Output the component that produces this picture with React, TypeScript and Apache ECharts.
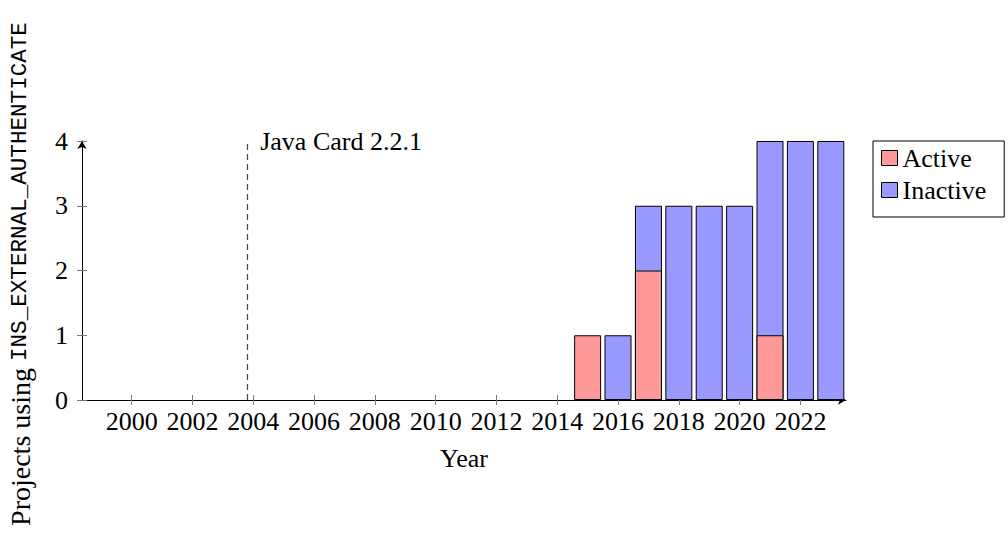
import React, { useEffect, useRef } from "react";
import * as echarts from "echarts";

const years = [2015, 2016, 2017, 2018, 2019, 2020, 2021, 2022, 2023];
const activeCounts = [1, 0, 2, 0, 0, 0, 1, 0, 0];
const inactiveCounts = [0, 1, 1, 3, 3, 3, 3, 4, 4];
const xTickLabels = [2000, 2002, 2004, 2006, 2008, 2010, 2012, 2014, 2016, 2018, 2020, 2022];
const yTickLabels = [0, 1, 2, 3, 4];
const seriesNames = ["Active", "Inactive"];
const javaCardYear = 2003.8;
const javaCardLabel = "Java Card 2.2.1";
const xName = "Year";
const yNamePlain = "Projects using ";
const yNameCode = "INS_EXTERNAL_AUTHENTICATE";

const SERIF = "'Liberation Serif', 'DejaVu Serif', serif";
const MONO = "'Liberation Mono', 'DejaVu Sans Mono', monospace";
const FS = 26;

export default function App() {
  const ref = useRef<HTMLDivElement>(null);
  useEffect(() => {
    document.body.style.margin = "0";
    const chart = echarts.init(ref.current!, undefined, { renderer: "svg" });
    // Stack built from the data: Inactive bar reaches active + inactive, Active drawn over it from 0.
    const activeData = years.map((y, i) => [y, activeCounts[i] === 0 ? "-" : activeCounts[i]]);
    const totalData = years.map((y, i) => {
      const t = activeCounts[i] + inactiveCounts[i];
      return [y, inactiveCounts[i] === 0 ? "-" : t];
    });
    const tickColor = "#777";
    const xMin = 1998.365;
    const xMax = 2023.5;
    const baseX = {
      type: "value",
      min: xMin,
      max: xMax,
      splitLine: { show: false },
    };
    const baseY = {
      type: "value",
      min: 0,
      max: 4,
      interval: 1,
      splitLine: { show: false },
    };
    chart.setOption({
      animation: false,
      grid: { left: 82, right: 162, top: 141, bottom: 138 },
      legend: {
        orient: "vertical",
        left: 873,
        top: 141,
        padding: [4, 18, 14, 8],
        borderColor: "#000",
        borderWidth: 1,
        itemWidth: 16,
        itemHeight: 15,
        itemGap: 6,
        icon: "rect",
        data: seriesNames,
        textStyle: { fontFamily: SERIF, fontSize: FS, color: "#000", lineHeight: 26 },
        itemStyle: { borderColor: "#000", borderWidth: 1 },
      },
      xAxis: [
        {
          ...baseX,
          position: "bottom",
          name: xName,
          nameLocation: "middle",
          nameGap: 45,
          nameTextStyle: { fontFamily: SERIF, fontSize: FS, color: "#000" },
          axisLine: {
            show: true,
            lineStyle: { color: "#000", width: 1 },
            symbol: ["none", "arrow"],
            symbolSize: [7, 8],
          },
          axisTick: {
            show: true,
            length: 5,
            customValues: xTickLabels,
            lineStyle: { color: tickColor },
          },
          axisLabel: {
            customValues: xTickLabels,
            formatter: (v: number) => String(v),
            fontFamily: SERIF,
            fontSize: FS,
            color: "#000",
            margin: 8,
          },
        },
        {
          ...baseX,
          position: "bottom",
          axisLine: { show: false },
          axisTick: {
            show: true,
            inside: true,
            length: 5,
            customValues: xTickLabels,
            lineStyle: { color: tickColor },
          },
          axisLabel: { show: false },
        },
      ],
      yAxis: [
        {
          ...baseY,
          position: "left",
          axisLine: {
            show: true,
            lineStyle: { color: "#000", width: 1 },
            symbol: ["none", "arrow"],
            symbolSize: [7, 8],
          },
          axisTick: { show: true, length: 5, lineStyle: { color: tickColor } },
          axisLabel: {
            customValues: yTickLabels,
            fontFamily: SERIF,
            fontSize: FS,
            color: "#000",
            margin: 14,
          },
        },
        {
          ...baseY,
          position: "left",
          axisLine: { show: false },
          axisTick: { show: true, inside: true, length: 5, lineStyle: { color: tickColor } },
          axisLabel: { show: false },
        },
      ],
      graphic: [
        {
          type: "text",
          x: 20,
          y: 274,
          rotation: Math.PI / 2,
          style: {
            text: "{a|" + yNamePlain + "}{b|" + yNameCode + "}",
            align: "center",
            verticalAlign: "middle",
            fill: "#000",
            rich: {
              a: { fontFamily: SERIF, fontSize: 28, fill: "#000" },
              b: { fontFamily: MONO, fontSize: 22.6, fill: "#000" },
            },
          },
        },
      ],
      series: [
        {
          name: seriesNames[1],
          type: "bar",
          barWidth: 27,
          data: totalData,
          itemStyle: { color: "#9999ff", borderColor: "#000", borderWidth: 1 },
        },
        {
          name: seriesNames[0],
          type: "bar",
          barWidth: 27,
          barGap: "-100%",
          data: activeData,
          itemStyle: { color: "#ff9999", borderColor: "#000", borderWidth: 1 },
        },
        {
          name: "release",
          type: "scatter",
          symbolSize: 0,
          data: [[javaCardYear, 4]],
          itemStyle: { opacity: 1 },
          label: {
            show: true,
            position: "right",
            distance: 13,
            formatter: javaCardLabel,
            fontFamily: SERIF,
            fontSize: FS,
            color: "#000",
            opacity: 1,
          },
          silent: true,
          markLine: {
            silent: true,
            symbol: ["none", "none"],
            label: { show: false },
            lineStyle: { type: [6, 4], color: "#444", width: 1.2 },
            data: [{ xAxis: javaCardYear }],
          },
        },
      ],
    });
    return () => chart.dispose();
  }, []);
  return <div ref={ref} style={{ width: 1008, height: 538 }} />;
}
